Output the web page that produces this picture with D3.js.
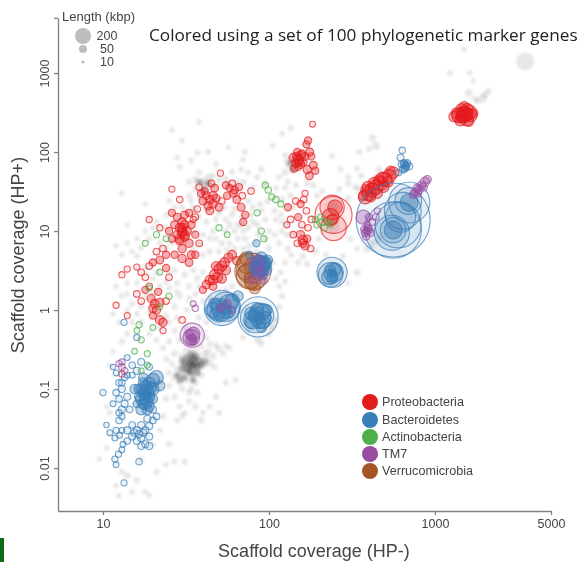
<!DOCTYPE html>
<html><head><meta charset="utf-8">
<script src="https://cdn.jsdelivr.net/npm/d3@7"></script>
<style>html,body{margin:0;padding:0;background:#fff;overflow:hidden}svg{display:block}</style>
</head><body><div id="chart"></div>
<script>
// each point: [coverage HP-, coverage HP+, length kbp]
const proteobacteria=[
[1500,300,170],[1400,290,130],[1600,320,130],[1550,260,100],[1450,340,90],[1350,310,60],[1650,290,80],[1500,375,50],[1420,250,60],[1600,245,50],[1550,300,90],[1480,310,90],[1700,310,40],[1300,280,50],[1500,290,100],[1450,280,80],[1560,350,70],
[380,27,110],[400,30,130],[420,33,110],[440,36,130],[470,40,120],[500,45,110],[530,50,100],[560,55,70],[385,33,60],[410,27,50],[450,30,50],[480,47,70],[520,42,60],[540,58,40],[430,40,80],[370,28,40],[395,36,70],[460,44,60],[490,36,60],
[150,80,50],[145,72,30],[155,90,40],[140,85,30],[160,75,30],[150,65,20],[148,100,20],[158,95,25],[142,62,20],[165,88,25],[152,75,30],[147,88,30],[155,70,30],[172,140,20],[168,125,20],[176,100,25],[185,68,25],[170,60,30],[183,225,10],[190,58,20],[175,50,25],[180,88,20],
[160,7.7,40],[155,9,30],[165,6.5,30],[158,12,15],[150,15,20],[168,18,15],[155,22,20],[162,25,15],[145,24,15],[172,11,15],[148,7,15],[170,8,20],[160,7,30],[178,6,15],[135,14,15],[130,20,20],[140,9,15],[165,30,12],[128,12,12],[180,14,15],
[245,16,1000],[240,20,400],[245,11,450],[235,15,180],[250,20,120],[240,14,50],
[30,9.5,40],[29,11,35],[31,8.5,40],[28,9,30],[32,10,35],[30,13,30],[27,12,25],[33,7,30],[29,7.5,30],[31,12,35],[30,6,30],[26,8,20],[34,12,25],[36,9,20],[28,15,25],[31,16,25],[34,5,25],[30,4.5,30],[33,4,25],[27,5,20],[25,10,20],[36,5,20],[38,7,15],[30,10,40],[31,9,40],[29,8,40],[30,11,35],[26,17,20],[33,17,20],[36,15,15],
[44,25,30],[42,28,25],[46,22,30],[40,24,25],[48,26,25],[44,18,25],[41,32,20],[47,35,25],[45,40,15],[39,30,20],[50,20,25],[43,21,30],[46,28,30],[52,24,15],[38,36,15],[37,19,15],[51,54,12],
[61,30,25],[58,35,20],[64,25,25],[56,28,20],[68,20,25],[60,40,15],[66,36,20],[72,16,20],[55,38,20],[70,13,20],[78,32,15],[69,28,15],[62,33,25],
[47,2.8,50],[50,3.3,50],[44,2.4,40],[54,4,45],[57,4.6,40],[42,2.1,30],[52,2.5,40],[60,5,35],[48,3.6,40],[64,4.2,30],[40,1.8,20],[46,2,25],[49,2.6,50],[46,2.4,40],[52,3.6,50],[55,3.2,40],
[22,4.3,25],[20,4,20],[24,5,20],[19,3.6,15],[21,5.5,15],[24,3.4,20],[18,2.6,15],[17,3,15],[25,2.6,15],[23,6,15],[16,3.5,12],
[20.5,1.2,35],[19.5,1.4,30],[21,1,30],[22,.75,35],[23,.7,30],[20,.85,20],[18,1.8,20],[17,1.3,15],[21.5,1.7,20],[24,1.3,15],[19,2,15],[16,1.6,15],[22,1.25,30],[20,1.05,30],[12,1.15,12],[14,.85,12],[23,.55,12],[30,.75,15],[13,.155,12],
[26,34,12],[29,25,14],[19,14,12],[22,11,12],[14,3.3,12],[13,2.8,12],[35,14,12]
];
const bacteroidetes=[
[18,.084,70],[17.5,.09,70],[18.5,.1,70],[17,.075,70],[19,.08,60],[18,.065,70],[17,.055,60],[19,.06,50],[18,.11,70],[19,.12,70],[20,.1,80],[17.5,.12,50],[16.5,.08,40],[18,.075,70],[18,.095,70],[17,.1,60],[19,.09,60],[18.5,.07,70],[17.5,.065,60],[18.5,.055,50],[21,.14,110],[20,.13,100],[22,.11,50],[15.5,.1,40],[16,.065,25],[20,.055,18],[21,.045,15],[16.5,.1,50],[19.5,.105,70],[17.5,.14,40],[20,.075,40],
[14,.03,18],[15,.025,18],[16,.03,18],[17,.035,18],[18,.03,18],[19,.025,18],[17,.024,18],[16,.022,18],[19,.034,18],[18,.02,18],[19,.019,18],[17,.019,18],[15.5,.028,18],[16.5,.027,18],[17.5,.028,18],[15,.035,15],[18.5,.042,18],[20,.04,15],
[10.5,.035,8],[11,.028,10],[12,.03,12],[13,.03,10],[11.8,.024,10],[12.6,.026,10],[14,.022,14],[13.2,.02,10],[12.4,.015,12],[11.8,.013,12],[12,.011,10],[16.5,.012,14],[13,.017,10],[13.4,.0065,12],
[10,.09,12],[12,.16,10],[12.5,.12,14],[13,.1,18],[12,.09,14],[12.5,.075,14],[13.5,.065,18],[13,.055,18],[12.5,.05,14],[14,.08,18],[13,.12,14],[13.5,.14,14],[11.5,.065,10],[13,.045,12],[14,.15,10],[11.5,.19,8],[15,.2,14],[16,.17,18],[17,.22,18],[19,.19,14],[15,.15,10],[12.5,.04,14],[14.5,.055,14],
[13.4,.7,12],[16,.45,12],[14,.25,10],
[52,1.06,900],[55,1.1,600],[50,1,380],[57,1.2,220],[46,1,140],[53,.95,120],[60,1.3,120],[48,.9,90],[54,1.05,80],[50,.85,60],[56,.9,60],[52,1.15,60],[65,1.5,60],[47,1.2,70],[58,.95,70],[49,1.1,100],
[86,.82,1200],[83,.8,650],[90,.85,420],[80,.75,220],[92,.95,140],[85,1,100],[78,.9,90],[88,.7,90],[95,.8,80],[82,.85,100],[87,.78,70],[90,.6,50],[84,.9,120],[92,.7,100],[78,.7,80],[97,1,60],
[90,3.7,170],[88,3.4,140],[93,3.9,140],[85,3.9,90],[95,3.3,100],[90,4.6,70],[83,3,50],[98,4.3,50],[89,3.1,90],[92,3.5,110],[87,4.1,100],[80,3.5,35],[92,2.8,45],[76,5,20],[84,7,20],[90,3.9,120],[95,4,70],[86,3.4,120],[91,3.2,100],
[240,3,650],[235,2.8,400],[245,3,250],[230,2.6,130],[250,3.3,80],[240,2.5,60],[235,3.2,50],[245,2.7,40],[240,2.9,30],
[560,13.8,4300],[560,10.3,2450],[600,12,1600],[700,23,1250],[690,24,500],[700,23,200],[640,18,1000],[560,10.3,450],[560,10.3,200],[550,9.5,900],[620,15,650],
[660,68,25],[640,60,20],[680,72,20],[650,72,20],[700,66,18],[630,70,16],[620,85,16],[635,105,14],[660,62,18],[670,65,20],[605,55,12]
];
const actinobacteria=[
[99,33,14],[95,38,12],[104,27,12],[110,25,14],[118,22,12],[85,17,12],[90,10,12],[93,8,12],[50,11,12],[56,9,10],[21,9,12],[24,8,10],[18,7,10],[22,3,10],[19,1.9,10],[16.5,.65,12],[17,.42,12],[18.5,.28,12],[15.5,.3,10],[17,.17,10],[18.5,.2,10],[16,.55,10],[210,13,18],[195,12,14],[225,13,14],[205,15,12],[215,11,14],[235,12,10],[190,14,10],[25,1.5,12],[22,1.1,10],[20,.6,10]
];
const tm7=[
[34.5,.48,400],[34,.45,170],[35,.5,100],[34,.42,50],[33,.5,30],[34.5,.44,30],[35,.4,20],[36,1.05,14],[35,1.2,10],[56,1.2,30],[51,1.05,20],[60,1,18],
[390,10,25],[380,9.5,25],[400,10.5,25],[385,8.5,20],[395,11,20],[375,10.5,20],[410,9.5,20],[390,12,16],[370,15,120],[400,15,20],[440,15,16],[420,13,16],[450,18,12],
[870,42,40],[800,33,30],[760,31,25],[780,35,25],[830,38,30],[740,29,25],[900,45,25],[850,36,30],[790,30,20],
[13,.19,16],[13.5,.17,16],[12.5,.21,12],[13,.22,12],[85,3.9,150],[90,3,50],[80,2.5,50],[92,2.4,30]
];
const verrucomicrobia=[
[80,3.1,950],[78,3.4,650],[76,2.7,450],[82,2.4,280],[74,3.9,280],[80,3.6,180],[72,3,130],[85,3,130],[78,2.2,90],[73,4.5,100],[82,1.9,70],[76,2.6,50]
];
const denseScaffolds=[
[34,.2,22],[33,.21,22],[35,.19,22],[36,.21,22],[32,.18,22],[34,.23,22],[37,.19,22],[31,.21,20],[35,.24,20],[33,.17,20],[38,.23,20],[30,.18,18],[36,.26,18],[32,.25,18],[34,.16,18],[39,.2,18],[30,.23,16],[37,.16,16],[41,.22,16],[28,.15,14],[31,.14,14],[34,.28,16],[29,.13,14],[35,.13,12],
[40,33,12],[43,40,12],[38,42,10],[150,85,16],[145,70,14],[140,60,12],[135,72,14]
];
const otherScaffolds=[
[3500,1400,200],[1230,1000,10],[1620,1000,8],[1700,790,6],[1500,2000,8],[1940,480,30],[1600,560,20],[2100,590,14],[2000,530,18],[1750,470,14],[1800,440,10],
[560,10.3,180],[700,23,170],[240,20,90],[245,11,90],[240,3,40],[34.5,.45,20],
[34,.2,16],[32,.22,20],[36,.2,20],[30,.2,16],[38,.22,20],[33,.17,20],[35,.25,20],[31,.16,20],[37,.17,16],[29,.15,20],[40,.2,20],[35,.15,16],[33,.26,16],[37,.26,20],[30,.26,16],[28,.18,16],[42,.24,20],[34,.13,16],[31,.13,16],[39,.15,16],[27,.14,16],[44,.21,16],[36,.3,16],[32,.31,16],[41,.28,16],[26,.21,12],[29,.12,16],[36,.12,16],[34,.1,12],[25,.16,12],[46,.26,16],[47,.19,12],[43,.3,16],[50,.32,16],[48,.36,12],[55,.35,12],[53,.28,12],[44,.37,12],[39,.35,16],[27,.28,12],[24,.24,12],[25,.11,12],[22,.13,10],[30,.1,12],[33,.09,12],[37,.09,12],[27,.08,12],[24,.075,12],[33,.07,12],[36,.06,12],[29,.06,10],[31,.05,10],[30,.045,12],[28,.04,10],[39,.04,16],
[58,.33,8],[63,.13,12],[55,.12,10],[48,.08,10],[44,.06,10],[50,.05,12],[40,.05,8],
[22,.03,8],[25,.02,10],[27,.012,10],[31,.012,12],[24,.011,8],[21,.009,10],[16,.007,12],[14,.008,16],[15,.005,12],[13,.009,10],[12,.006,8],[18,.005,8],[19,.0045,8],[12.5,.0045,8],[20,.02,8],[23,.045,10],[20,.07,8],[11,.05,8],[10.5,.06,6],[9.5,.013,8],[10.5,.018,8],[17,.013,10],
[11,.2,8],[11.5,.3,6],[13,.4,10],[14,.5,10],[12.5,.7,8],[11.5,.9,8],[13,1.5,10],[12,2,8],[14,2.2,10],[15,1.2,12],[16,.9,10],[17,.7,12],[19,.5,12],[21,.42,12],[23,.33,12],[25,.4,10],[27,.55,12],[29,.42,12],[31,.6,10],[24,.85,10],[27,1.1,12],[29,1.5,12],[32,1,10],[25,1.9,10],[28,2.2,12],[31,2.8,12],[27,3.2,10],[33,2,12],[36,1.6,12],[38,.8,12],[40,1.3,10],[42,.7,10],[35,3.2,10],[37,2.5,12],[22,2,10],[20,2.5,10],[16,4.8,8],[15,5.5,6],[17,6.2,10],[13,5,8],[12,6.5,8],[14,7,6],[19,8,10],[22,7,10],[24,6,12],[21,13,10],[24,16,8],[25,24,10],[18,22,6],[14,12,6],[13,30,8],
[33,42,12],[36,46,12],[38,55,10],[40,43,16],[43,48,16],[46,50,12],[41,38,16],[36,34,12],[33,28,12],[38,27,12],[45,37,12],[42,33,16],[40,40,20],[44,42,16],[37,40,16],[50,44,12],[55,46,12],[58,40,10],[64,42,12],[70,42,12],[60,56,10],[75,55,10],[68,60,10],[85,48,10],[90,60,10],[48,70,8],[34,78,10],[29,65,8],[37,98,8],[28,85,8],[30,140,8],[43,100,8],[57,115,8],[72,100,10],[26,190,8],[38,240,8],[70,80,8],[105,120,8],[125,92,10],[120,170,8],[135,200,10],[80,36,12],[95,40,10],[110,35,12],[125,35,10],[115,48,10],
[50,17,12],[55,14,12],[60,16,12],[65,12,12],[58,12,16],[70,10,12],[75,11,12],[80,13,12],[85,12,12],[95,14,12],[100,10,12],[110,14,12],[120,10,10],[90,18,12],[80,20,12],[75,24,12],[72,8,12],[65,8,12],[58,7,12],[52,7,12],[46,10,12],[42,13,12],[40,9,10],[38,7,10],[44,5.5,12],[50,5.5,10],[56,5.7,12],[62,6,12],[70,6,12],[76,6.5,12],[84,5.5,10],[100,6,12],[115,7,12],[130,6,12],[125,4,10],[105,4,12],[110,2.5,10],[125,2.3,10],[150,4,10],[140,9,10],[130,12,12],[140,20,10],[135,28,12],[130,42,12],[145,38,12],[125,55,16],[132,68,20],[135,80,20],[138,60,16],[128,76,12],[170,40,12],[185,38,10],[195,28,12],[210,32,10],[240,90,10],[270,60,10],[265,34,12],[300,26,10],[330,36,12],[300,48,12],[350,100,12],[340,62,10],[360,50,12],[310,8,12],[340,6,10],[280,4.8,10],[200,8,10],[190,5.5,12],[170,3.8,12],[160,4.8,12],[220,5,10],
[105,.6,16],[100,.5,12],[85,.42,20],[90,.38,16],[70,.45,12],[75,.55,12],[110,.75,12],[115,1.1,12],[120,1.5,12],[115,2,10],[68,2.2,10],[60,2,12],[55,1.8,10],
[390,6,25],[420,7,20],[460,8,25],[340,3,16],[300,2.2,10],[440,120,30],[420,150,20],[460,60,16],[400,110,10],[350,34,20],[300,40,12],[120,25,16],
[35,20,10],[38,15,10],[42,19,10],[48,14,12],[54,20,10],[62,19,12],[68,15,10],[78,16,10],[88,22,10],[98,24,12],[108,18,10],[118,16,10],[44,8,10],[48,8,10],[55,10,12],[62,10,12],[68,12,10],[86,9,12],[96,8,10],[108,9,10],[120,13,10],[128,9,10],[136,5,10],[118,3,10],[34,24,10],[36,18,10],[30,20,10],[27,20,8],[24,11,8],[20,11,8],[18,10,8],[16,8,6],[26,7,10],[35,10,10],[40,5,10],[35,6,10],[25,3,10],[28,1.7,10],[33,1.4,10],[38,2,10],[40,3,10],[44,1.4,10],[50,1.7,8],[36,.55,10],[42,.45,10],[22,.6,8],[25,.7,10],[28,.8,10],[19,.9,8],[15,.7,8],[14,1,8],[17,1.1,8],[18,1.5,8],[14,1.6,6],[16,2.2,8],[18,3.5,8],[21,3,8],[24,2.3,8],[20,1.6,8]
];
const legendLabels=["Proteobacteria","Bacteroidetes","Actinobacteria","TM7","Verrucomicrobia"];
const legendColors=["#e41a1c","#377eb8","#4daf4a","#984ea3","#a65628"];
const seriesList=[proteobacteria,verrucomicrobia,bacteroidetes,actinobacteria,tm7];
const seriesColors=["#e41a1c","#a65628","#377eb8","#4daf4a","#984ea3"];
const xTicks=[10,100,1000,5000];
const yTicks=[0.01,0.1,1,10,100,1000,5000];
const sizeLegend=[200,50,10];

const W=583,H=562;
const svg=d3.select("#chart").append("svg").attr("width",W).attr("height",H);
const defs=svg.append("defs");
[["soft",0.7],["haze",1.2]].forEach(([id,sd])=>{
  defs.append("filter").attr("id",id).attr("filterUnits","userSpaceOnUse").attr("x",0).attr("y",0).attr("width",W).attr("height",H)
    .append("feGaussianBlur").attr("stdDeviation",sd);
});
const root=svg.append("g").attr("filter","url(#soft)");
root.append("rect").attr("x",0).attr("y",0).attr("width",W).attr("height",H).attr("fill","#fff");

const x=d3.scaleLog().domain([5.36,5000]).range([58,551]);
const y=d3.scaleLog().domain([0.00286,4970]).range([511,18]);
const r=d3.scaleSqrt().domain([0,4300]).range([1.2,37]);
const ink="#444";

const gx=root.append("g").attr("transform","translate(0,511)")
  .call(d3.axisBottom(x).tickValues(xTicks).tickFormat(d3.format("d")).tickSize(4).tickSizeOuter(0));
const gy=root.append("g").attr("transform","translate(58,0)")
  .call(d3.axisLeft(y).tickValues(yTicks).tickFormat(d=>d===5000?"":String(d)).tickSize(4).tickSizeOuter(0));
[gx,gy].forEach(g=>{
  g.selectAll("path,line").attr("stroke","#808080").attr("stroke-width",1.3);
  g.selectAll("text").attr("fill",ink).attr("font-family","Liberation Sans").attr("font-size",12.5);
});
gx.selectAll("text").attr("y",8);
gy.selectAll(".tick text").attr("transform","rotate(-90)").attr("x",0).attr("y",-9).attr("dy",0).attr("text-anchor","middle");

const haze=root.append("g").attr("filter","url(#haze)");
haze.append("g").selectAll("circle").data(otherScaffolds).join("circle")
  .attr("cx",d=>x(d[0])).attr("cy",d=>y(d[1])).attr("r",d=>r(d[2]))
  .attr("fill","#555").attr("fill-opacity",0.14);
haze.append("g").selectAll("circle").data(denseScaffolds).join("circle")
  .attr("cx",d=>x(d[0])).attr("cy",d=>y(d[1])).attr("r",d=>r(d[2]))
  .attr("fill","#222").attr("fill-opacity",0.3);

seriesList.forEach((s,i)=>{
  root.append("g").selectAll("circle").data(s).join("circle")
    .attr("cx",d=>x(d[0])).attr("cy",d=>y(d[1])).attr("r",d=>r(d[2]))
    .attr("fill",seriesColors[i]).attr("fill-opacity",d=>d[2]>=1000?0.07:(d[2]>300?0.16:(d[2]>=20?0.35:0.1)))
    .attr("stroke",seriesColors[i]).attr("stroke-opacity",0.7).attr("stroke-width",1.1);
});

// size legend
root.append("text").attr("x",62).attr("y",21).attr("font-family","Liberation Sans").attr("font-size",13).attr("fill",ink).text("Length (kbp)");
const sizeY=[36,49,62];
sizeLegend.forEach((L,i)=>{
  root.append("circle").attr("cx",83).attr("cy",sizeY[i]).attr("r",[8,4,1.6][i]).attr("fill","#bdbdbd");
  root.append("text").attr("x",107).attr("y",sizeY[i]+4).attr("text-anchor","middle").attr("font-family","Liberation Sans").attr("font-size",12.5).attr("fill",ink).text(L);
});
root.append("text").attr("x",149).attr("y",41).attr("font-family","Open Sans").attr("font-size",17.2).attr("fill","#222").text("Colored using a set of 100 phylogenetic marker genes");

// taxon legend
const legY=[402,420,437,454,471];
legendLabels.forEach((t,i)=>{
  root.append("circle").attr("cx",370).attr("cy",legY[i]).attr("r",8).attr("fill",legendColors[i]);
  root.append("text").attr("x",382).attr("y",legY[i]+4).attr("font-family","Liberation Sans").attr("font-size",12.6).attr("fill",ink).text(t);
});
root.append("text").attr("x",314).attr("y",557).attr("text-anchor","middle").attr("font-family","Liberation Sans").attr("font-size",18).attr("fill",ink).text("Scaffold coverage (HP-)");
root.append("text").attr("transform","translate(24,255) rotate(-90)").attr("text-anchor","middle").attr("font-family","Liberation Sans").attr("font-size",18).attr("fill",ink).text("Scaffold coverage (HP+)");
root.append("rect").attr("x",0).attr("y",538).attr("width",4).attr("height",24).attr("fill","#0b6a12");
</script></body></html>
